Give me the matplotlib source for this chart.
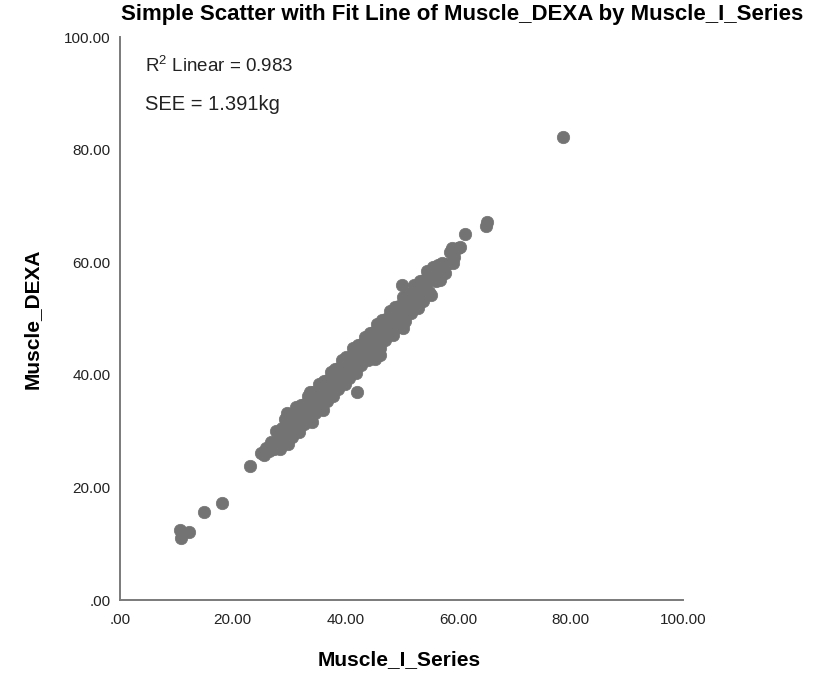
import matplotlib
matplotlib.use("Agg")
import matplotlib.pyplot as plt

plt.rcParams['font.family'] = ['Liberation Sans', 'DejaVu Sans']
plt.rcParams['mathtext.fontset'] = 'custom'
plt.rcParams['mathtext.rm'] = 'Liberation Sans'

# Muscle mass (kg): I-Series estimate vs DEXA reference
muscle_i_series = [
    10.7, 10.8, 12.3, 14.9, 18.1, 23.0,
    25.1, 25.6, 26.0, 26.4, 26.8, 27.1, 27.3, 27.7, 28.0, 28.2, 28.5, 28.7,
    28.9, 29.1, 29.3, 29.5, 29.7, 29.8, 30.0, 30.1,
    30.3, 30.4, 30.6, 30.8, 31.0, 31.1, 31.3, 31.5, 31.6, 31.8, 32.0, 32.1,
    32.3, 32.5, 32.7, 32.8, 33.0, 33.2, 33.4, 33.5, 33.7, 33.8, 33.9, 34.0,
    34.1, 34.2, 34.4, 34.5, 34.7, 34.9, 35.0,
    35.2, 35.4, 35.5, 35.7, 35.9, 36.0, 36.1, 36.2, 36.4, 36.5, 36.7, 36.9,
    37.0, 37.2, 37.4, 37.5, 37.7, 37.9, 38.0, 38.2, 38.4, 38.5, 38.7, 38.9,
    39.0, 39.2, 39.4, 39.5, 39.7, 39.9,
    40.0, 40.2, 40.4, 40.5, 40.7, 40.9, 41.0, 41.2, 41.4, 41.5, 41.7, 41.9,
    42.0, 42.1, 42.3, 42.5, 42.6, 42.8, 43.0, 43.2, 43.4, 43.5, 43.7, 43.9,
    44.0, 44.2, 44.4, 44.6, 44.8,
    45.0, 45.1, 45.3, 45.3, 45.5, 45.7, 45.9, 46.0, 46.2, 46.2, 46.4, 46.6,
    46.8, 47.0, 47.1, 47.3, 47.5, 47.7, 47.9, 48.0, 48.2, 48.4, 48.6, 48.8,
    49.0, 49.1, 49.3, 49.5, 49.7, 49.9,
    50.1, 50.2, 50.3, 50.4, 50.5, 50.7, 50.9, 51.1, 51.3, 51.4, 51.6, 51.8,
    52.0, 52.1, 52.3, 52.5, 52.7, 52.9, 53.0, 53.2, 53.4, 53.6, 53.8, 54.0,
    54.2, 54.4, 54.6, 54.8,
    55.0, 55.2, 55.4, 55.6, 55.9, 56.2, 56.5, 56.8, 57.2, 57.4, 57.7, 58.0,
    58.6, 59.0, 59.1, 59.4, 60.0, 60.4, 61.3, 65.0, 65.2, 78.7,
]
muscle_dexa = [
    12.4, 11.0, 12.1, 15.6, 17.2, 23.8,
    26.1, 25.8, 27.0, 26.5, 28.0, 27.2, 26.8, 30.1, 28.0, 29.4, 26.8, 30.5,
    28.3, 29.8, 32.1, 28.4, 33.3, 27.8, 31.5, 32.6,
    30.4, 31.7, 29.0, 32.7, 30.4, 31.8, 34.2, 30.5, 32.7, 29.9, 33.6, 34.7,
    32.5, 33.9, 31.2, 34.8, 32.5, 34.0, 36.3, 32.5, 34.8, 37.0, 32.1, 35.7,
    31.6, 36.9, 34.7, 36.0, 33.3, 37.0, 34.6,
    36.1, 38.4, 34.6, 36.9, 34.1, 37.7, 33.7, 38.9, 36.8, 38.1, 35.4, 39.1,
    36.7, 38.2, 40.5, 36.7, 39.0, 36.2, 39.8, 41.0, 38.8, 40.1, 37.4, 41.2,
    38.8, 40.3, 42.6, 38.8, 41.1, 38.3,
    41.9, 43.1, 40.9, 42.2, 39.5, 43.2, 40.8, 42.3, 44.7, 40.9, 43.2, 40.4,
    44.0, 36.9, 45.3, 43.1, 44.4, 41.7, 45.4, 43.1, 44.6, 46.8, 43.1, 45.5,
    42.6, 46.3, 47.5, 45.3, 46.7,
    44.0, 47.6, 45.3, 42.8, 46.8, 49.1, 45.4, 47.6, 44.8, 43.6, 48.6, 49.8,
    47.6, 49.0, 46.2, 49.9, 47.6, 49.1, 51.4, 47.6, 49.9, 47.1, 50.8, 52.1,
    49.9, 51.2, 48.5, 52.2, 49.9, 51.4,
    56.0, 53.8, 48.3, 50.1, 52.3, 49.5, 53.2, 54.4, 52.3, 53.6, 50.9, 54.6,
    52.3, 53.7, 56.0, 52.3, 54.6, 51.8, 55.4, 56.6, 54.4, 55.8, 53.2, 56.9,
    54.6, 56.1, 58.4, 54.7,
    57.0, 54.2, 57.9, 59.1, 57.0, 56.7, 59.5, 56.9, 59.9, 58.1, 58.0, 59.6,
    61.8, 62.6, 59.9, 61.0, 62.5, 62.7, 65.0, 66.5, 67.1, 82.2,
]

r2_linear = 0.983
see_kg = 1.391

tick_values = [0, 20, 40, 60, 80, 100]
tick_labels = [".00", "20.00", "40.00", "60.00", "80.00", "100.00"]

fig = plt.figure(figsize=(8.33, 6.77), dpi=100)
ax = fig.add_axes([0.1441, 0.1137, 0.6759, 0.8316])

ax.scatter(muscle_i_series, muscle_dexa, s=80, color="#737373",
           edgecolors="#737373", linewidths=0.5, zorder=3)

ax.set_xlim(0, 100)
ax.set_ylim(0, 100)
ax.set_xticks(tick_values)
ax.set_xticklabels(tick_labels)
ax.set_yticks(tick_values)
ax.set_yticklabels(tick_labels)
ax.tick_params(length=0, labelsize=11, colors="#222222")
ax.tick_params(axis="x", pad=9)
ax.tick_params(axis="y", pad=7)

for side in ["top", "right"]:
    ax.spines[side].set_visible(False)
for side in ["left", "bottom"]:
    ax.spines[side].set_color("#7a7a7a")
    ax.spines[side].set_linewidth(1.4)

ax.set_xlabel("Muscle_I_Series", fontsize=15, fontweight="bold")
ax.set_ylabel("Muscle_DEXA", fontsize=15, fontweight="bold")
ax.xaxis.set_label_coords(0.495, -0.089)
ax.yaxis.set_label_coords(-0.140, 0.5)

ax.text(0.045, 0.95, r"R$^{\mathregular{2}}$ Linear = %.3f" % r2_linear,
        transform=ax.transAxes, fontsize=13.5, va="center", ha="left",
        color="#222222")
ax.text(0.045, 0.88, "SEE = %.3fkg" % see_kg, transform=ax.transAxes,
        fontsize=14.5, va="center", ha="left", color="#222222")

fig.text(0.555, 0.979, "Simple Scatter with Fit Line of Muscle_DEXA by Muscle_I_Series",
         fontsize=16, fontweight="bold", ha="center", va="center")

fig.savefig("out.png", dpi=100)
